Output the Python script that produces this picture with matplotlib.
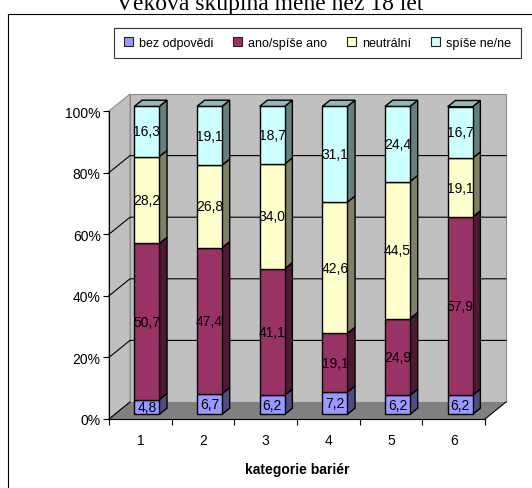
import matplotlib
matplotlib.use("Agg")
import matplotlib.pyplot as plt
from matplotlib.patches import Polygon, Patch
from matplotlib.lines import Line2D
import numpy as np

# ---- data ----
categories = ["1", "2", "3", "4", "5", "6"]
series_names = ["bez odpovědi", "ano/spíše ano", "neutrální", "spíše ne/ne"]
bez_odpovedi = [4.8, 6.7, 6.2, 7.2, 6.2, 6.2]
ano_spise_ano = [50.7, 47.4, 41.1, 19.1, 24.9, 57.9]
neutralni = [28.2, 26.8, 34.0, 42.6, 44.5, 19.1]
spise_ne_ne = [16.3, 19.1, 18.7, 31.1, 24.4, 16.7]
ytick_values = [0, 20, 40, 60, 80, 100]
ytick_labels = ["0%", "20%", "40%", "60%", "80%", "100%"]
title_text = "Věková skupina méně než 18 let"
xlabel_text = "kategorie bariér"

series = [bez_odpovedi, ano_spise_ano, neutralni, spise_ne_ne]
face_colors = ["#9999FF", "#993366", "#FFFFCC", "#CCFFFF"]
side_colors = ["#4D4D80", "#4D1A33", "#808066", "#668080"]
top_color = "#8FB8B8"

plt.rcParams['font.family'] = ['Liberation Sans', 'DejaVu Sans']

W, H = 532, 489
fig = plt.figure(figsize=(W / 100, H / 100), dpi=100)
fig.patch.set_facecolor("white")

ax = fig.add_axes([109 / W, (H - 420) / H, 376 / W, 308 / H])
ax.set_xlim(0.5, 6.5)
ax.set_ylim(0, 100)
ax.patch.set_visible(False)

px_x = 6 / 376.0
px_y = 100 / 308.0
wdx = 21 * px_x
wdy = 17 * px_y

# walls and floor
x0, x1 = 0.5, 6.5
back = Polygon([(x0 + wdx, wdy), (x1 + wdx, wdy), (x1 + wdx, 100 + wdy), (x0 + wdx, 100 + wdy)],
               closed=True, fc="#C0C0C0", ec="#8C8C8C", lw=0.8, clip_on=False, zorder=0)
left = Polygon([(x0, 0), (x0 + wdx, wdy), (x0 + wdx, 100 + wdy), (x0, 100)],
               closed=True, fc="#C0C0C0", ec="#8C8C8C", lw=0.8, clip_on=False, zorder=0)
floor = Polygon([(x0, 0), (x1, 0), (x1 + wdx, wdy), (x0 + wdx, wdy)],
                closed=True, fc="#808080", ec="none", clip_on=False, zorder=0.5)
for p in (back, left, floor):
    ax.add_patch(p)

for v in ytick_values[1:-1]:
    ax.plot([x0, x0 + wdx, x1 + wdx], [v, v + wdy, v + wdy], color="black", lw=0.8,
            clip_on=False, zorder=1)
ax.plot([x0, x0 + wdx], [0, wdy], color="black", lw=0.8, clip_on=False, zorder=1)
ax.plot([x1, x1 + wdx], [0, wdy], color="black", lw=0.8, clip_on=False, zorder=1)

# bars
x = np.arange(1, len(categories) + 1, dtype=float)
ox = 6.5 * px_x
oy = 1.5
bw = 25 * px_x
bdx = 7.7 * px_x
bdy = 6.2 * px_y
bottom = np.zeros(len(categories))
for i, vals in enumerate(series):
    vals = np.array(vals)
    bars = ax.bar(x + ox, vals, width=bw, bottom=bottom + oy, color=face_colors[i],
                  edgecolor="black", lw=1.0, zorder=3)
    for b in bars:
        b.set_clip_on(False)
    for j in range(len(x)):
        xr = x[j] + ox + bw / 2
        b0 = bottom[j] + oy
        t0 = b0 + vals[j]
        ax.add_patch(Polygon([(xr, b0), (xr + bdx, b0 + bdy), (xr + bdx, t0 + bdy), (xr, t0)],
                             closed=True, fc=side_colors[i], ec="black", lw=1.0,
                             clip_on=False, zorder=2.9))
        ax.text(x[j] + ox, b0 + vals[j] / 2, f"{vals[j]:.1f}".replace(".", ","),
                ha="center", va="center", fontsize=10, color="black", zorder=5)
    bottom = bottom + vals

for j in range(len(x)):
    xl = x[j] + ox - bw / 2
    xr = x[j] + ox + bw / 2
    t0 = bottom[j] + oy
    ax.add_patch(Polygon([(xl, t0), (xr, t0), (xr + bdx, t0 + bdy), (xl + bdx, t0 + bdy)],
                         closed=True, fc=top_color, ec="black", lw=1.0, clip_on=False, zorder=3.1))

# axes styling
for s in ("top", "right"):
    ax.spines[s].set_visible(False)
for s in ("left", "bottom"):
    ax.spines[s].set_color("black")
    ax.spines[s].set_linewidth(0.8)
    ax.spines[s].set_zorder(2)

ax.set_yticks(ytick_values)
ax.set_yticklabels(ytick_labels)
ax.tick_params(axis="y", direction="out", length=4.5, width=0.8, pad=1.5, labelsize=10)
ax.set_xticks(x)
ax.set_xticklabels(categories)
ax.set_xticks(np.arange(0.5, len(categories) + 1, 1.0), minor=True)
ax.tick_params(axis="x", which="major", length=0, pad=10, labelsize=10)
ax.tick_params(axis="x", which="minor", direction="out", length=4.5, width=0.8)
ax.set_xlabel(xlabel_text, fontsize=10, fontweight="bold", labelpad=11)

handles = [Patch(facecolor=c, edgecolor="#222222", lw=0.8) for c in face_colors]
leg = fig.legend(handles, series_names, loc="center", bbox_to_anchor=(317.5 / W, (H - 44) / H),
                 ncol=4, frameon=True, fancybox=False, edgecolor="black", fontsize=9,
                 handlelength=0.7, handleheight=0.7, handletextpad=0.5, columnspacing=1.6,
                 borderpad=0.75, borderaxespad=0)
leg.get_frame().set_linewidth(0.8)

# outer chart border
fig.add_artist(Line2D([8 / W, 8 / W], [0, (H - 15) / H], color="black", lw=0.8,
                      transform=fig.transFigure))
fig.add_artist(Line2D([8 / W, 1.0], [(H - 15) / H, (H - 15) / H], color="black", lw=0.8,
                      transform=fig.transFigure))

fig.text(270 / W, (H - 10) / H, title_text, ha="center", va="baseline",
         family=["Liberation Serif", "DejaVu Serif"], fontsize=17)

fig.savefig("out.png", dpi=100)
